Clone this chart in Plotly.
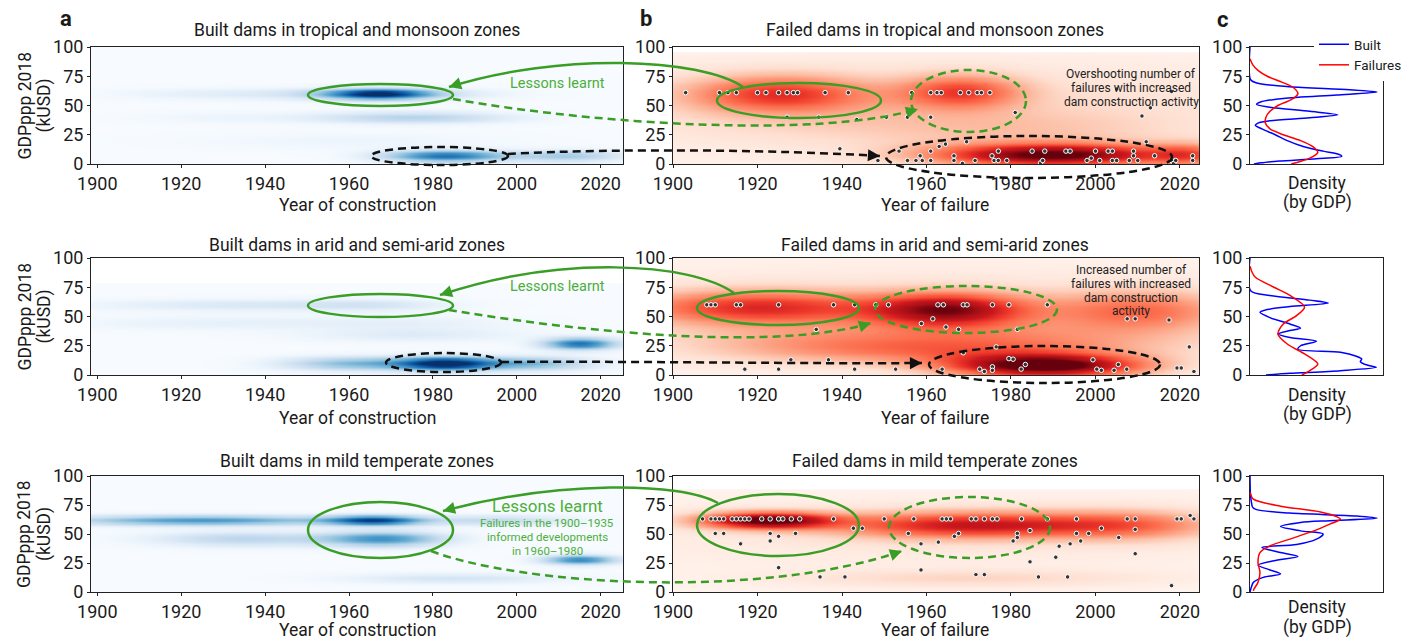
import numpy as np
import plotly.graph_objects as go

W, H = 1408, 641
FONT = "Roboto"
TXT = "#1a1a1a"
GREEN = "#3a9e26"
GREEN_TXT = "#4caf3a"

# ---------------- text ----------------
year_ticks = [1900, 1920, 1940, 1960, 1980, 2000, 2020]
gdp_ticks = [0, 25, 50, 75, 100]
built_titles = ["Built dams in tropical and monsoon zones",
                "Built dams in arid and semi-arid zones",
                "Built dams in mild temperate zones"]
failed_titles = ["Failed dams in tropical and monsoon zones",
                 "Failed dams in arid and semi-arid zones",
                 "Failed dams in mild temperate zones"]

# ---------------- built-dam density blobs ----------------
# year centre, GDP centre, year spread, GDP spread, weight
trop_built_year = [1967, 1965, 1975, 1983, 2012, 1960, 1925, 1930]
trop_built_gdp = [60, 60, 40, 7, 7, 20, 60, 40]
trop_built_ysd = [8.5, 18, 16, 10, 9, 25, 15, 15]
trop_built_gsd = [3.2, 3.5, 3.5, 3.5, 3.5, 5, 3.5, 3.5]
trop_built_w = [0.85, 0.25, 0.3, 0.75, 0.35, 0.05, 0.08, 0.05]
trop_built_top = 100

arid_built_year = [1983, 1962, 2015, 2003, 1935, 1965, 1975, 1930, 1975]
arid_built_gdp = [10, 10, 27, 10, 60, 60, 35, 45, 45]
arid_built_ysd = [8, 12, 6, 10, 25, 12, 18, 25, 18]
arid_built_gsd = [4, 4, 3.5, 4, 3.5, 3.5, 4, 4, 4]
arid_built_w = [1.0, 0.45, 0.75, 0.45, 0.14, 0.12, 0.12, 0.08, 0.07]
arid_built_top = 78

mild_built_year = [1966, 1925, 1968, 1935, 2015, 1985, 1995]
mild_built_gdp = [62, 62, 46, 46, 28, 12, 62]
mild_built_ysd = [8, 22, 10, 15, 6, 18, 12]
mild_built_gsd = [3, 3, 4.5, 4.5, 3, 3, 3]
mild_built_w = [0.85, 0.6, 0.6, 0.28, 0.65, 0.17, 0.25]
mild_built_top = 100

# ---------------- failed-dam density blobs ----------------
trop_fail_year = [1925, 1968, 1990, 2022, 1950, 1960, 1985]
trop_fail_gdp = [60, 62, 8, 8, 35, 50, 30]
trop_fail_ysd = [15, 10, 20, 6, 30, 70, 25]
trop_fail_gsd = [11, 10, 7, 7, 15, 28, 10]
trop_fail_w = [0.55, 0.5, 1.0, 0.35, 0.06, 0.14, 0.1]
trop_fail_top = 95

arid_fail_year = [1920, 1965, 1988, 1960, 2010, 1975, 1930, 1960]
arid_fail_gdp = [58, 56, 8, 20, 55, 30, 30, 50]
arid_fail_ysd = [20, 13, 16, 30, 15, 30, 20, 70]
arid_fail_gsd = [10, 10, 7, 8, 12, 10, 10, 28]
arid_fail_w = [0.58, 0.8, 1.05, 0.25, 0.4, 0.25, 0.12, 0.14]
arid_fail_top = 100

mild_fail_year = [1922, 1970, 2008, 1970, 1960]
mild_fail_gdp = [62, 58, 58, 12, 50]
mild_fail_ysd = [11, 22, 15, 30, 70]
mild_fail_gsd = [5, 8, 9, 5, 25]
mild_fail_w = [1.0, 0.7, 0.38, 0.14, 0.07]
mild_fail_top = 88

# ---------------- failure events (year, GDP) ----------------
trop_ev_year = [1903, 1911, 1913, 1915, 1920, 1922, 1925, 1927, 1928.5, 1929.5, 1936, 1941.5,
                1956.5, 1961, 1962.5, 1963.5, 1968, 1970, 1972, 1973, 1975,
                1927, 1934.5, 1943.5, 1950.5, 1955.5, 1961, 1981, 2011, 2013, 2005, 2018,
                1939.5, 1948.5, 1953.5, 1955.5, 1957.5, 1958.5, 1959, 1961, 1961, 1963, 1964.5,
                1966.5, 1966.5, 1968.5, 1969.5, 1971.5, 1975.5, 1976, 1977, 1977, 1979, 1985,
                1987, 1987.5, 1988, 1993, 1994, 1998, 1999, 2000, 2001, 2003, 2004, 2004, 2005,
                2008, 2009, 2009, 2010, 2012, 2014, 2018, 2018.5, 2019, 2023, 2023]
trop_ev_gdp = [61, 61, 61, 61, 61, 61, 61, 61, 61, 61, 61, 61,
               61, 61, 61, 61, 61, 61, 61, 61, 61,
               40, 40, 38, 40, 40, 40, 44, 41, 48, 64, 62,
               13, 3, 11, 3, 3, 7, 3, 11, 3, 15, 17,
               7, 3, 0.5, 19, 3, 7, 3, 11, 3, 3, 11,
               1, 3, 11, 11, 11, 3, 5, 11, 3, 11, 11, 3, 3,
               3, 7, 11, 3, 19, 7, 3, 0.5, 3, 7, 3]

arid_ev_year = [1908, 1909, 1910, 1915, 1916, 1925, 1938, 1943, 1948, 1951, 1962.7, 1964,
                1968.7, 1969.6, 1975.6, 1979.5, 1988.6,
                1933.9, 1958.8, 1961.5, 1964.6, 1967.6, 1981.5, 2007.5, 2009.4, 2017.4, 2022.2,
                1976.5, 1968.7, 1927.9, 1936.8, 1917, 1925, 1943, 1952.7, 1963.7, 1972.6, 1973.7,
                1975.6, 1975.6, 1979.5, 1980.5, 1982.4, 1983.4, 1999.4, 2000.3, 2001.4, 2004.4,
                2005.4, 2007.4, 2019.3, 2020.3, 2023.3]
arid_ev_gdp = [60, 60, 60, 60, 60, 60, 60, 60, 60, 60, 60, 60,
               60, 60, 60, 60, 60,
               39, 44, 48, 41, 39, 39, 48, 48, 47, 24,
               24, 19, 13, 13, 5, 5, 5, 5, 5, 5, 3,
               7, 4, 14, 13.5, 5, 9, 13, 5, 4, 4,
               9, 5, 6, 6, 3]

mild_ev_year = [1907, 1909, 1910, 1911, 1912, 1914, 1915, 1916, 1917, 1918, 1921, 1923, 1925,
                1926, 1928, 1930, 1938, 1950, 1957, 1963.7, 1964.7, 1965.7, 1970.6, 1971.7,
                1973.7, 1975.6, 1976.7, 1982.5, 1988.6, 1995.5, 2007.5, 2009.4, 2019.3, 2020.3,
                2022.4, 2023.3,
                1942.7, 1944.8, 1984.5,
                1910, 1912, 1923, 1929, 1955.7, 1967.6, 1981.5, 1995.5, 1998.4, 2001.4, 2009.4,
                1925, 1966.6, 1981.5,
                1923, 1980.5, 1996.5, 2005.5,
                1916, 1958.7, 1962.8, 1994, 1991.4,
                2009.4, 1990.6, 1984.5, 1925, 1958.7, 1971.7, 1973.7,
                1934.8, 1940.7, 1986.5, 1993.4, 2018]
mild_ev_gdp = [63, 63, 63, 63, 63, 63, 63, 63, 63, 63, 63, 63, 63,
               63, 63, 63, 63, 63, 63, 63, 63, 63, 63, 63,
               63, 63, 63, 63, 63, 63, 63, 63, 63, 63,
               66, 63,
               55, 55, 53,
               50.5, 50.5, 50.5, 50.5, 50.5, 50.5, 50.5, 50.5, 50.5, 55, 54,
               48, 48, 47,
               44, 44, 44, 47,
               41.5, 41.5, 43, 41.5, 39.5,
               33, 30, 26, 21, 19, 15, 15,
               13, 13, 13, 13, 5.5]

# ---------------- GDP density profiles (panel c) ----------------
trop_c_built_gdp = [100, 72, 69, 66, 63.5, 61.5, 59, 56, 53, 51, 48.5, 45, 42, 39.5, 37, 35, 33,
                    30, 25, 20, 15, 11, 8.5, 6.5, 4.5, 2.5, 1, 0]
trop_c_built_den = [0, 0.005, 0.06, 0.3, 0.75, 0.955, 0.65, 0.25, 0.08, 0.05, 0.15, 0.45, 0.66,
                    0.45, 0.15, 0.06, 0.04, 0.09, 0.19, 0.28, 0.4, 0.55, 0.66, 0.69, 0.5, 0.22,
                    0.08, 0.03]
trop_c_fail_gdp = [90, 85, 80, 75, 70, 65, 60, 55, 50, 45, 40, 35, 30, 25, 20, 15, 10, 5, 2, 0]
trop_c_fail_den = [0, 0.02, 0.06, 0.13, 0.24, 0.33, 0.36, 0.31, 0.21, 0.15, 0.12, 0.115, 0.15,
                   0.25, 0.38, 0.47, 0.51, 0.45, 0.37, 0.31]

arid_c_built_gdp = [100, 72, 68, 64, 61.5, 58.5, 56, 53.6, 49, 43.6, 40, 38, 35, 32, 28.8, 25, 22,
                    19.4, 16, 13.7, 11.4, 8.5, 6.6, 3.7, 1.4, 0]
arid_c_built_den = [0, 0.005, 0.15, 0.45, 0.59, 0.3, 0.13, 0.075, 0.15, 0.3, 0.38, 0.3, 0.21,
                    0.3, 0.5, 0.38, 0.36, 0.68, 0.8, 0.84, 0.83, 0.88, 0.95, 0.68, 0.3, 0.12]
arid_c_fail_gdp = [93, 88, 83.5, 75, 68, 58, 50.7, 43.6, 35, 26.5, 18, 9.4, 3.7, 0]
arid_c_fail_den = [0, 0.015, 0.04, 0.18, 0.3, 0.41, 0.35, 0.25, 0.21, 0.28, 0.41, 0.51, 0.45, 0.39]

mild_c_built_gdp = [100, 85, 78, 73, 71, 68, 65.5, 63.6, 61.5, 60, 56.4, 52.7, 50, 45.6, 41, 38.4,
                    34, 30.7, 27, 23.2, 19, 15.5, 12.6, 8.3, 4, 0]
mild_c_built_den = [0, 0.003, 0.01, 0.02, 0.05, 0.3, 0.8, 0.955, 0.6, 0.38, 0.23, 0.38, 0.55,
                    0.5, 0.35, 0.09, 0.23, 0.36, 0.18, 0.06, 0.15, 0.23, 0.1, 0.025, 0.01, 0.0]
mild_c_fail_gdp = [86, 80, 74, 69, 65, 62.8, 58.5, 52.7, 45.6, 39.8, 34, 25.5, 17, 8.3, 2.6, 1]
mild_c_fail_den = [0, 0.025, 0.23, 0.53, 0.65, 0.68, 0.6, 0.48, 0.3, 0.15, 0.075, 0.06, 0.075,
                   0.06, 0.03, 0.025]

# ---------------- colour scales ----------------
BLUES = ['#f7fbff', '#deebf7', '#c6dbef', '#9ecae1', '#6baed6', '#4292c6', '#2171b5', '#08519c', '#08306b']
REDS = ['#fff5f0', '#fee0d2', '#fcbba1', '#fc9272', '#fb6a4a', '#ef3b2c', '#cb181d', '#a50f15', '#67000d']
blues_cs = [[i / 8, c] for i, c in enumerate(BLUES)]
reds_cs = [[i / 8, c] for i, c in enumerate(REDS)]


def blob_field(top, yc, gc, ysd, gsd, w):
    xg = np.arange(1897, 2027.01, 1.0)
    yg = np.arange(0, top + 0.01, 1.0)
    X, Y = np.meshgrid(xg, yg)
    z = np.zeros_like(X)
    for a, b, sa, sb, ww in zip(yc, gc, ysd, gsd, w):
        z += ww * np.exp(-0.5 * (((X - a) / sa) ** 2 + ((Y - b) / sb) ** 2))
    return xg, yg, z


built = [
    (trop_built_top, trop_built_year, trop_built_gdp, trop_built_ysd, trop_built_gsd, trop_built_w),
    (arid_built_top, arid_built_year, arid_built_gdp, arid_built_ysd, arid_built_gsd, arid_built_w),
    (mild_built_top, mild_built_year, mild_built_gdp, mild_built_ysd, mild_built_gsd, mild_built_w),
]
failed = [
    (trop_fail_top, trop_fail_year, trop_fail_gdp, trop_fail_ysd, trop_fail_gsd, trop_fail_w),
    (arid_fail_top, arid_fail_year, arid_fail_gdp, arid_fail_ysd, arid_fail_gsd, arid_fail_w),
    (mild_fail_top, mild_fail_year, mild_fail_gdp, mild_fail_ysd, mild_fail_gsd, mild_fail_w),
]
events = [(trop_ev_year, trop_ev_gdp), (arid_ev_year, arid_ev_gdp), (mild_ev_year, mild_ev_gdp)]
profiles = [
    (trop_c_built_gdp, trop_c_built_den, trop_c_fail_gdp, trop_c_fail_den),
    (arid_c_built_gdp, arid_c_built_den, arid_c_fail_gdp, arid_c_fail_den),
    (mild_c_built_gdp, mild_c_built_den, mild_c_fail_gdp, mild_c_fail_den),
]

# ---------------- layout geometry (pixels) ----------------
col_px = [(91, 623), (673, 1199), (1250, 1383)]
row_px = [(47, 164), (258, 375), (476, 592)]
col_range = [[1898.5, 2025.3], [1900, 2024.5], [0, 1.0]]
TICK_SIZE = 18


def px(x):
    return x / W


def py(y):
    return 1 - y / H


fig = go.Figure()
layout = dict(template="none", width=W, height=H, margin=dict(l=0, r=0, t=0, b=0, pad=0),
              paper_bgcolor="white", plot_bgcolor="white",
              font=dict(family=FONT, size=16, color=TXT),
              showlegend=True)

for r in range(3):
    for c in range(3):
        i = r * 3 + c + 1
        xn = "x" if i == 1 else f"x{i}"
        yn = "y" if i == 1 else f"y{i}"
        xa = dict(domain=[px(col_px[c][0]), px(col_px[c][1])], range=col_range[c],
                  anchor=yn, showline=True, mirror=True, linecolor="#222", linewidth=1,
                  showgrid=False, zeroline=False, automargin=False,
                  tickfont=dict(size=TICK_SIZE, color=TXT))
        if c < 2:
            xa.update(tickvals=year_ticks, ticks="outside", ticklen=3, tickcolor="#222")
        else:
            xa.update(showticklabels=False, ticks="")
        ya = dict(domain=[py(row_px[r][1]), py(row_px[r][0])], range=[0, 100], anchor=xn,
                  showline=True, mirror=True, linecolor="#222", linewidth=1,
                  showgrid=False, zeroline=False, automargin=False, tickvals=gdp_ticks,
                  ticks="outside", ticklen=3, tickcolor="#222",
                  tickfont=dict(size=TICK_SIZE, color=TXT))
        layout["xaxis" if i == 1 else f"xaxis{i}"] = xa
        layout["yaxis" if i == 1 else f"yaxis{i}"] = ya

        if c == 0:
            xg, yg, z = blob_field(*built[r])
            fig.add_trace(go.Heatmap(x=xg, y=yg, z=z, colorscale=blues_cs, zmin=0, zmax=1,
                                     zsmooth="best", showscale=False, hoverinfo="skip",
                                     xaxis=xn, yaxis=yn, showlegend=False))
        elif c == 1:
            xg, yg, z = blob_field(*failed[r])
            fig.add_trace(go.Heatmap(x=xg, y=yg, z=z, colorscale=reds_cs, zmin=0, zmax=1,
                                     zsmooth="best", showscale=False, hoverinfo="skip",
                                     xaxis=xn, yaxis=yn, showlegend=False))
            ey, eg = events[r]
            fig.add_trace(go.Scatter(x=ey, y=eg, mode="markers",
                                     marker=dict(size=4.5, color="#333333",
                                                 line=dict(color="white", width=1)),
                                     xaxis=xn, yaxis=yn, showlegend=False, hoverinfo="skip"))
        else:
            bg, bd, fg, fd = profiles[r]
            fig.add_trace(go.Scatter(x=bd, y=bg, mode="lines", line=dict(color="#0000ff", width=1.5,
                                     shape="spline", smoothing=0.8), name="Built",
                                     xaxis=xn, yaxis=yn, showlegend=(r == 0)))
            fig.add_trace(go.Scatter(x=fd, y=fg, mode="lines", line=dict(color="#ff0000", width=1.5,
                                     shape="spline", smoothing=0.8), name="Failures",
                                     xaxis=xn, yaxis=yn, showlegend=(r == 0)))

layout["legend"] = dict(x=px(1314), y=py(29), xanchor="left", yanchor="top",
                        bgcolor="white", borderwidth=0, font=dict(size=13.5, color=TXT),
                        itemwidth=30, tracegroupgap=0)

annotations = []


def txt(x, y, s, size=16, color=TXT, bold=False, angle=0, xanchor="center"):
    annotations.append(dict(x=px(x), y=py(y), xref="paper", yref="paper", text=f"<b>{s}</b>" if bold else s,
                            showarrow=False, font=dict(size=size, color=color, family=FONT),
                            xanchor=xanchor, yanchor="middle", textangle=angle))


# panel letters
txt(66, 18, "a", size=22, bold=True)
txt(646, 18, "b", size=22, bold=True)
txt(1222, 20, "c", size=22, bold=True)

title_y = [30, 245, 461]
xt_y = [205, 418, 630]
dens_y = [(183, 202), (395, 414), (607, 627)]
for r in range(3):
    txt(357, title_y[r], built_titles[r], size=17.5)
    txt(935, title_y[r], failed_titles[r], size=17.5)
    txt(357, xt_y[r], "Year of construction", size=17.5)
    txt(935, xt_y[r], "Year of failure", size=17.5)
    txt(1317, dens_y[r][0], "Density", size=17.5)
    txt(1317, dens_y[r][1], "(by GDP)", size=17.5)
    cy = (row_px[r][0] + row_px[r][1]) / 2
    txt(24, cy, "GDPppp 2018", size=17.5, angle=-90)
    txt(44, cy, "(kUSD)", size=17.5, angle=-90)

# green notes
txt(557, 83, "Lessons learnt", size=14.5, color=GREEN_TXT)
txt(557, 286, "Lessons learnt", size=14.5, color=GREEN_TXT)
txt(547, 506, "Lessons learnt", size=17, color=GREEN_TXT)
txt(547, 523, "Failures in the 1900–1935", size=11.5, color=GREEN_TXT)
txt(547, 537, "informed developments", size=11.5, color=GREEN_TXT)
txt(547, 550.5, "in 1960–1980", size=11.5, color=GREEN_TXT)

# black notes
for yy, s in zip([74, 88, 101.5], ["Overshooting number of", "failures with increased",
                                   "dam construction activity"]):
    txt(1131, yy, s, size=12, color="#222")
for yy, s in zip([270, 284, 297.6, 311], ["Increased number of", "failures with increased",
                                          "dam construction", "activity"]):
    txt(1131, yy, s, size=12, color="#222")

shapes = []


def ellipse(x0, x1, y0, y1, color, dash):
    shapes.append(dict(type="circle", xref="paper", yref="paper", x0=px(x0), x1=px(x1),
                       y0=py(y1), y1=py(y0), line=dict(color=color, width=2.5, dash=dash),
                       fillcolor="rgba(0,0,0,0)", layer="above"))


DASH = "8px,5px"
# row 1
ellipse(308, 453, 84, 106, GREEN, "solid")
ellipse(371, 508, 147, 165, "#111", DASH)
ellipse(717, 881, 83, 118, GREEN, "solid")
ellipse(911, 1026, 70, 132, GREEN, DASH)
ellipse(886, 1172, 136, 178, "#111", DASH)
# row 2
ellipse(308, 453, 294, 317, GREEN, "solid")
ellipse(386, 501, 353, 372, "#111", DASH)
ellipse(697, 859, 291, 325, GREEN, "solid")
ellipse(875, 1057, 286, 333, GREEN, DASH)
ellipse(929, 1160, 346, 383, "#111", DASH)
# row 3
ellipse(308, 453, 502, 558, GREEN, "solid")
ellipse(697, 859, 494, 556, GREEN, "solid")
ellipse(889, 1050, 497, 558, GREEN, DASH)


def arrow(p0, c1, c2, p3, color, dash):
    path = (f"M {px(p0[0])},{py(p0[1])} C {px(c1[0])},{py(c1[1])} "
            f"{px(c2[0])},{py(c2[1])} {px(p3[0])},{py(p3[1])}")
    shapes.append(dict(type="path", path=path, xref="paper", yref="paper",
                       line=dict(color=color, width=2.5, dash=dash), layer="above"))
    dx, dy = p3[0] - c2[0], p3[1] - c2[1]
    n = (dx ** 2 + dy ** 2) ** 0.5
    ax, ay = -dx / n * 12, -dy / n * 12
    annotations.append(dict(x=px(p3[0]), y=py(p3[1]), xref="paper", yref="paper", text="",
                            showarrow=True, arrowhead=2, arrowsize=1.1, arrowwidth=2.2,
                            arrowcolor=color, ax=ax, ay=ay, standoff=0))


arrow((743, 87), (700, 58), (560, 52), (449, 87), GREEN, "solid")
arrow((453, 99), (600, 125), (820, 138), (918, 109), GREEN, DASH)
arrow((508, 154), (620, 148), (780, 150), (880, 156), "#111", DASH)
arrow((734, 293), (690, 262), (560, 255), (440, 295), GREEN, "solid")
arrow((449, 310), (600, 335), (780, 350), (871, 323), GREEN, DASH)
arrow((501, 362), (650, 361), (800, 364), (922, 363), "#111", DASH)
arrow((718, 503), (680, 482), (560, 480), (443, 511), GREEN, "solid")
arrow((431, 551), (520, 585), (760, 600), (902, 551), GREEN, DASH)

layout["annotations"] = annotations
layout["shapes"] = shapes
fig.update_layout(**layout)
fig.write_html("out.html", config={"displayModeBar": False},
               post_script="document.body.style.margin='0px';document.body.style.padding='0px';")
